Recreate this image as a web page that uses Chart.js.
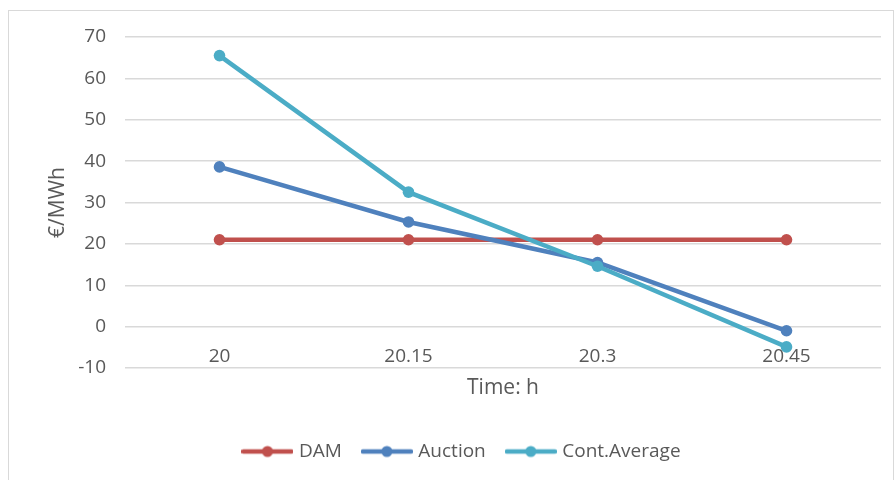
<!DOCTYPE html>
<html>
<head>
<meta charset="utf-8">
<script src="https://cdn.jsdelivr.net/npm/chart.js@4.4.0/dist/chart.umd.min.js"></script>
<style>
  html, body { margin: 0; padding: 0; background: #fff; overflow: hidden; }
  #frame { position: absolute; left: 8px; top: 10px; width: 884px; height: 520px; border: 1px solid #d9d9d9; }
  #wrap { position: absolute; left: 0; top: 0; width: 894px; height: 480px; }
</style>
</head>
<body>
<div id="frame"></div>
<div id="wrap"><canvas id="chart" width="894" height="480"></canvas></div>
<script>
// values
const categories = ['20', '20.15', '20.3', '20.45'];
const damValues = [21, 21, 21, 21];
const auctionValues = [38.6, 25.3, 15.5, -1];
const contAverageValues = [65.5, 32.5, 14.6, -4.9];
const yMin = -10;
const yMax = 70;
const yStep = 10;

const seriesNames = ['DAM', 'Auction', 'Cont.Average'];
const seriesColors = ['#C0504D', '#4F81BD', '#4BACC6'];

const textColor = '#595959';
const gridColor = '#d9d9d9';
const fontFamily = '"Open Sans", "DejaVu Sans", sans-serif';

// Excel-like legend marker: a short line with a dot in the middle
function legendMarker(color) {
  const c = document.createElement('canvas');
  c.width = 52;
  c.height = 14;
  const g = c.getContext('2d');
  g.strokeStyle = color;
  g.lineWidth = 4.5;
  g.lineCap = 'round';
  g.beginPath();
  g.moveTo(2, 7);
  g.lineTo(50, 7);
  g.stroke();
  g.fillStyle = color;
  g.beginPath();
  g.arc(26, 7, 5.5, 0, Math.PI * 2);
  g.fill();
  return c;
}
const markers = seriesColors.map(legendMarker);

function lineDataset(i, values, order) {
  return {
    label: seriesNames[i],
    data: values,
    borderColor: seriesColors[i],
    backgroundColor: seriesColors[i],
    pointBackgroundColor: seriesColors[i],
    pointBorderColor: seriesColors[i],
    borderWidth: 4.5,
    pointRadius: 5.8,
    pointBorderWidth: 0,
    pointHoverRadius: 6,
    tension: 0,
    order: order
  };
}

new Chart(document.getElementById('chart'), {
  type: 'line',
  data: {
    labels: categories,
    datasets: [
      lineDataset(0, damValues, 3),
      lineDataset(1, auctionValues, 2),
      lineDataset(2, contAverageValues, 1)
    ]
  },
  options: {
    responsive: false,
    animation: false,
    layout: { padding: { left: 45, right: 13, top: 37, bottom: 9 } },
    plugins: {
      tooltip: { enabled: false },
      legend: {
        position: 'bottom',
        labels: {
          usePointStyle: true,
          pointStyleWidth: 44,
          padding: 23,
          color: textColor,
          font: { family: fontFamily, size: 19 },
          sort: (a, b) => a.datasetIndex - b.datasetIndex,
          generateLabels: chart => Chart.defaults.plugins.legend.labels.generateLabels(chart).map(item => {
            item.pointStyle = markers[item.datasetIndex];
            return item;
          })
        }
      }
    },
    scales: {
      // category axis crosses the value axis at 0, like Excel
      x: {
        position: { y: 0 },
        offset: true,
        grid: { display: false, drawTicks: false },
        border: { display: false },
        ticks: {
          color: textColor,
          font: { family: fontFamily, size: 19 },
          padding: 19,
          maxRotation: 0,
          autoSkip: false
        }
      },
      // bottom axis only carries the axis title
      xTitle: {
        type: 'category',
        position: 'bottom',
        offset: true,
        grid: { display: false, drawTicks: false },
        border: { display: false },
        ticks: { display: false },
        title: {
          display: true,
          text: 'Time: h',
          color: textColor,
          font: { family: fontFamily, size: 21 },
          padding: { top: 0, bottom: 18 }
        },
        afterFit: s => { s.height = 51; }
      },
      y: {
        min: yMin,
        max: yMax,
        grid: { color: gridColor, lineWidth: 1.5, drawTicks: false },
        border: { display: false },
        ticks: {
          stepSize: yStep,
          color: textColor,
          font: { family: fontFamily, size: 19 },
          padding: 19
        },
        title: {
          display: true,
          text: '€/MWh',
          color: textColor,
          font: { family: fontFamily, size: 21 },
          padding: { top: 0, bottom: 8 }
        },
        afterFit: s => { s.width = 80; }
      }
    }
  }
});
</script>
</body>
</html>
